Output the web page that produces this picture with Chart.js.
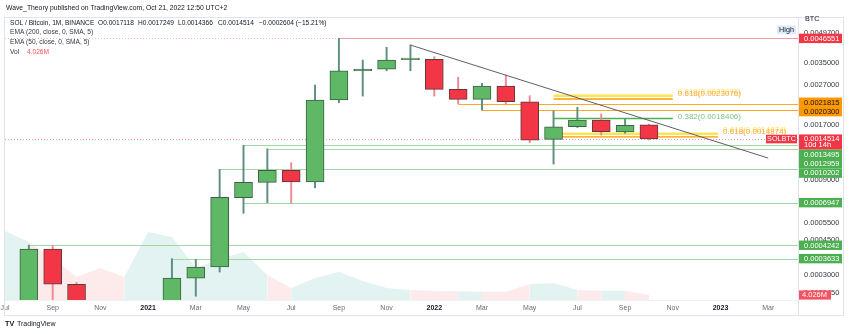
<!DOCTYPE html>
<html>
<head>
<meta charset="utf-8">
<script src="https://cdn.jsdelivr.net/npm/chart.js@4.4.0/dist/chart.umd.min.js"></script>
<style>
  html, body { margin: 0; padding: 0; background: #ffffff; }
  #wrap { width: 850px; height: 334px; position: relative; }
</style>
</head>
<body>
<div id="wrap"><canvas id="c" width="850" height="334"></canvas></div>
<script>
// SOL / BTC monthly candles, Jul 2020 .. Oct 2022 (x = month index from Jul 2020)
const months = ['Jul 2020','Aug 2020','Sep 2020','Oct 2020','Nov 2020','Dec 2020',
  'Jan 2021','Feb 2021','Mar 2021','Apr 2021','May 2021','Jun 2021','Jul 2021','Aug 2021',
  'Sep 2021','Oct 2021','Nov 2021','Dec 2021','Jan 2022','Feb 2022','Mar 2022','Apr 2022',
  'May 2022','Jun 2022','Jul 2022','Aug 2022','Sep 2022','Oct 2022'];
const open  = [0.000115,0.000165,0.000406,0.000270,0.000180,0.000125,0.000105,0.000125,0.000290,0.000330,
  0.000737,0.000879,0.001009,0.000882,0.002280,0.003200,0.003260,0.003640,0.003653,0.002580,
  0.002298,0.002680,0.002235,0.001446,0.001673,0.001808,0.001575,0.0017118];
const high  = [0.000175,0.000425,0.000424,0.000276,0.000200,0.000140,0.000165,0.0003633,0.000360,0.0010202,
  0.0013495,0.0012959,0.001103,0.002713,0.0046551,0.003624,0.004200,0.004310,0.003765,0.002966,
  0.002766,0.003046,0.002396,0.002007,0.002095,0.001938,0.001823,0.0017249];
const low   = [0.000105,0.000150,0.000205,0.000165,0.000120,0.000100,0.000085,0.000120,0.000235,0.000311,
  0.000614,0.0006947,0.000690,0.000825,0.002210,0.002387,0.003200,0.003200,0.002387,0.0021815,
  0.0020300,0.002180,0.001390,0.001085,0.001660,0.001520,0.001550,0.0014366];
const close = [0.000165,0.000406,0.000270,0.000180,0.000125,0.000105,0.000125,0.000290,0.000329,0.000738,
  0.000879,0.001009,0.000882,0.002280,0.003200,0.003250,0.003624,0.003655,0.002580,0.002298,
  0.002680,0.002235,0.001434,0.001673,0.001808,0.001579,0.001700,0.0014514];
// monthly volume, millions of SOL
const volume = [55.5,46.7,33.8,18.5,25.8,18.5,54.7,50.7,25.8,33.0,38.6,20.1,9.7,17.7,22.5,15.3,
  9.7,8.1,7.2,7.0,6.7,6.7,12.9,13.7,8.1,7.5,7.5,4.026];

// axis ticks
const priceTicks = [0.00497,0.0035,0.0027,0.0017,0.0009,0.00055,0.00045,0.0003,0.000245];
const timeTicks = [0,2,4,6,8,10,12,14,16,18,20,22,24,26,28,30,32];
const monthNames = ['Jan','Feb','Mar','Apr','May','Jun','Jul','Aug','Sep','Oct','Nov','Dec'];

// drawn levels
const athLevel = 0.0046551, athFrom = 14;
const resistLevels = [0.0021815, 0.0020300];
const resistFrom = [19, 20];
const supportLevels = [0.0013495, 0.0012959, 0.0010202, 0.0006947, 0.0004242, 0.0003633];
const supportFrom = [10, 11, 9, 10, 1, 7];
const fibRatios = ['0.618', '0.382', '0.618'];
const fibValues = [0.0023076, 0.0018406, 0.0014874];
const fibFrom = [23, 23, 23.35];
const fibTo = [28, 28, 29.9];
const trendX = [17, 32];
const trendY = [0.00431, 0.001164];

const lastIdx = months.length - 1;
const lastPrice = close[lastIdx];
const countdown = '10d 14h';
const FONT = "'Liberation Sans', Arial, sans-serif";
const UP = '#5fb865', DOWN = '#f23645';
const isUp = i => close[i] >= open[i];
const fmt = v => v.toFixed(7);

const wickData = months.map((m, i) => ({ x: i, y: [low[i], high[i]] }));
const bodyData = months.map((m, i) => ({ x: i, y: [Math.min(open[i], close[i]), Math.max(open[i], close[i])] }));
const volData = months.map((m, i) => ({ x: i, y: volume[i] }));

function hLine(ctx, x1, x2, y, color, width, dash) {
  ctx.save();
  ctx.beginPath();
  ctx.strokeStyle = color;
  ctx.lineWidth = width;
  ctx.setLineDash(dash || []);
  ctx.moveTo(x1, y); ctx.lineTo(x2, y);
  ctx.stroke();
  ctx.restore();
}
const crisp = y => Math.round(y) + 0.5;

function drawLevels(chart) {
  const { ctx, chartArea: a, scales: { x, y } } = chart;
  ctx.save();
  ctx.beginPath(); ctx.rect(a.left, a.top, a.right - a.left, a.bottom - a.top); ctx.clip();
  // all-time-high level
  const yAth = crisp(y.getPixelForValue(athLevel));
  hLine(ctx, a.left, x.getPixelForValue(athFrom), yAth, '#f3b9bd', 1, [1, 2]);
  hLine(ctx, x.getPixelForValue(athFrom), a.right, yAth, '#f49aa2', 1);
  // last price
  hLine(ctx, a.left, a.right, crisp(y.getPixelForValue(lastPrice)), '#f39aa1', 1, [1, 2]);
  resistLevels.forEach((v, i) => hLine(ctx, x.getPixelForValue(resistFrom[i]), a.right, crisp(y.getPixelForValue(v)), '#ffa726', 1));
  supportLevels.forEach((v, i) => hLine(ctx, x.getPixelForValue(supportFrom[i]), a.right, crisp(y.getPixelForValue(v)), '#a5d6a7', 1.2));
  fibValues.forEach((v, i) => {
    const py = y.getPixelForValue(v);
    const x1 = x.getPixelForValue(fibFrom[i]), x2 = x.getPixelForValue(fibTo[i]);
    if (fibRatios[i] === '0.618') {
      hLine(ctx, x1, x2, py - 3.2, '#ffe44d', 2.6);
      hLine(ctx, x1, x2, py, '#ff9800', 1.4);
    } else {
      hLine(ctx, x1, x2, py, '#4caf50', 1.6);
    }
  });
  ctx.restore();
}

function drawFibText(chart) {
  const { ctx, scales: { x, y } } = chart;
  ctx.save();
  ctx.font = '8px ' + FONT;
  ctx.textBaseline = 'middle';
  ctx.textAlign = 'left';
  fibValues.forEach((v, i) => {
    const py = y.getPixelForValue(v);
    const tx = x.getPixelForValue(fibTo[i]) + 5;
    const label = fibRatios[i] + '(' + fmt(v) + ')';
    if (fibRatios[i] === '0.618') {
      ctx.fillStyle = '#ffe066';
      ctx.fillText(label, tx, py - 7);
      ctx.fillStyle = '#f7a93c';
      ctx.fillText(label, tx, py - 5);
    } else {
      ctx.fillStyle = '#7cc47f';
      ctx.fillText(label, tx, py - 1.5);
    }
  });
  ctx.restore();
}

function box(ctx, x, y, w, h, bg) { ctx.fillStyle = bg; ctx.fillRect(x, y, w, h); }

function drawInPlotTags(chart) {
  const { ctx, chartArea: a, scales: { y } } = chart;
  ctx.save();
  ctx.font = '7.2px ' + FONT;
  ctx.textBaseline = 'middle';
  ctx.textAlign = 'center';
  // symbol tag on the last price line
  const py = y.getPixelForValue(lastPrice);
  box(ctx, a.right - 32, py - 4.3, 31, 8.6, '#f23645');
  ctx.fillStyle = '#ffffff';
  ctx.fillText('SOLBTC', a.right - 16.5, py);
  // session high marker
  box(ctx, a.right - 21, 25.5, 19, 8.5, '#dfeafb');
  ctx.fillStyle = '#131722';
  ctx.fillText('High', a.right - 11.5, 29.8);
  ctx.restore();
}

// price-axis tags, stacked so they never overlap
function drawAxisTags(chart) {
  const { ctx, chartArea: a, scales: { y, yv } } = chart;
  const H = 9.4;
  const tags = [];
  tags.push({ want: y.getPixelForValue(athLevel) - H / 2, h: H, lines: [fmt(athLevel)], bg: '#f23645', fg: '#fff' });
  resistLevels.forEach(v => tags.push({ want: y.getPixelForValue(v) - H / 2, h: H, lines: [fmt(v)], bg: '#ff9800', fg: '#131722' }));
  tags.push({ want: y.getPixelForValue(lastPrice) - 4.6, h: 15.2, lines: [fmt(lastPrice), countdown], bg: '#f23645', fg: '#fff', pinned: true });
  supportLevels.forEach(v => tags.push({ want: y.getPixelForValue(v) - H / 2, h: H, lines: [fmt(v)], bg: '#4caf50', fg: '#fff' }));
  tags.sort((p, q) => p.want - q.want);

  const blocks = [];
  tags.forEach(t => {
    blocks.push({ items: [t], top: t.want, h: t.h });
    while (blocks.length > 1) {
      const b = blocks[blocks.length - 1], p = blocks[blocks.length - 2];
      if (p.top + p.h <= b.top + 0.01) break;
      const items = p.items.concat(b.items);
      const offs = []; let o = 0;
      items.forEach(it => { offs.push(o); o += it.h; });
      const pin = items.findIndex(it => it.pinned);
      let top;
      if (pin >= 0) top = items[pin].want - offs[pin];
      else top = items.reduce((s, it, k) => s + it.want - offs[k], 0) / items.length;
      blocks.splice(-2, 2, { items, top, h: o });
    }
  });

  ctx.save();
  ctx.font = '7.5px ' + FONT;
  ctx.textBaseline = 'middle';
  ctx.textAlign = 'left';
  const bx = a.right, bw = 44;
  blocks.forEach(b => {
    let t = b.top;
    b.items.forEach(it => {
      box(ctx, bx, t, bw, it.h, it.bg);
      ctx.fillStyle = it.fg;
      if (it.lines.length === 1) ctx.fillText(it.lines[0], bx + 6, t + it.h / 2 + 0.3);
      else {
        ctx.fillText(it.lines[0], bx + 6, t + 4.6);
        ctx.fillText(it.lines[1], bx + 6, t + 11);
      }
      t += it.h;
    });
  });
  // volume tag
  const vy = yv.getPixelForValue(volume[lastIdx]);
  box(ctx, bx, vy - 4.6, 33, 9.2, '#f7525f');
  ctx.fillStyle = '#fff';
  ctx.fillText(volume[lastIdx].toFixed(3) + 'M', bx + 4, vy + 0.2);
  ctx.restore();
}

function drawChrome(chart) {
  const { ctx, chartArea: a } = chart;
  ctx.save();
  // frame
  ctx.strokeStyle = '#e0e3eb';
  ctx.lineWidth = 1;
  ctx.beginPath();
  ctx.moveTo(4.5, 17.5); ctx.lineTo(843.5, 17.5); ctx.lineTo(843.5, 315.5); ctx.lineTo(4.5, 315.5); ctx.closePath();
  ctx.moveTo(a.right + 0.5, 17.5); ctx.lineTo(a.right + 0.5, 315.5);
  ctx.stroke();
  ctx.strokeStyle = '#eef0f4';
  ctx.beginPath(); ctx.moveTo(a.left, a.bottom + 0.5); ctx.lineTo(a.right, a.bottom + 0.5); ctx.stroke();

  ctx.textBaseline = 'middle';
  ctx.textAlign = 'left';
  ctx.font = '6.8px ' + FONT;
  ctx.fillStyle = '#131722';
  ctx.fillText('Wave_Theory published on TradingView.com, Oct 21, 2022 12:50 UTC+2', 6, 8);
  ctx.font = '7.2px ' + FONT;
  ctx.fillText('BTC', 805, 19);

  ctx.font = '6.6px ' + FONT;
  ctx.fillStyle = '#131722';
  ctx.fillText('SOL / Bitcoin, 1M, BINANCE', 10, 23.5);
  const ohlc = ['O' + fmt(open[lastIdx]), 'H' + fmt(high[lastIdx]), 'L' + fmt(low[lastIdx]), 'C' + fmt(close[lastIdx])];
  const ox = [98, 138, 178, 218];
  ohlc.forEach((s, i) => ctx.fillText(s, ox[i], 23.5));
  const chg = close[lastIdx] - open[lastIdx];
  const pct = chg / open[lastIdx] * 100;
  ctx.fillText('\u2212' + fmt(Math.abs(chg)) + ' (\u2212' + Math.abs(pct).toFixed(2) + '%)', 259, 23.5);
  ctx.fillStyle = '#333a45';
  ctx.fillText('EMA (200, close, 0, SMA, 5)', 10, 32.5);
  ctx.fillText('EMA (50, close, 0, SMA, 5)', 10, 42.3);
  ctx.fillText('Vol', 10, 51.7);
  ctx.fillStyle = '#f7525f';
  ctx.fillText(volume[lastIdx].toFixed(3) + 'M', 27, 51.7);

  // footer brand
  ctx.fillStyle = '#131722';
  ctx.font = 'bold 7.2px ' + FONT;
  ctx.fillText('TV', 5, 324.5);
  ctx.font = '7px ' + FONT;
  ctx.fillText('TradingView', 17, 324.5);
  ctx.restore();
}

const overlay = {
  id: 'overlay',
  afterDatasetDraw(chart, args) { if (args.index === 0) drawLevels(chart); },
  afterDatasetsDraw(chart) { drawFibText(chart); drawInPlotTags(chart); },
  afterDraw(chart) { drawAxisTags(chart); drawChrome(chart); }
};

new Chart(document.getElementById('c'), {
  type: 'bar',
  data: {
    datasets: [
      {
        type: 'line', label: 'Vol', data: volData, yAxisID: 'yv', order: 4,
        fill: 'origin', pointRadius: 0, borderWidth: 0, borderColor: 'rgba(0,0,0,0)', tension: 0, clip: 0,
        backgroundColor: 'rgba(38,166,154,0.13)',
        segment: { backgroundColor: c => isUp(c.p1DataIndex) ? 'rgba(38,166,154,0.13)' : 'rgba(239,83,80,0.12)' }
      },
      {
        label: 'wick', data: wickData, yAxisID: 'y', order: 3, grouped: false, barThickness: 1.3, clip: 0,
        backgroundColor: c => isUp(c.dataIndex) ? '#5f8f82' : '#ee8a94', borderWidth: 0
      },
      {
        label: 'body', data: bodyData, yAxisID: 'y', order: 2, grouped: false, barThickness: 18, clip: 0,
        minBarLength: 1.6, borderSkipped: false, borderWidth: 1,
        borderColor: c => isUp(c.dataIndex) ? '#3d5f45' : '#5a3a3d',
        backgroundColor: c => isUp(c.dataIndex) ? UP : DOWN
      },
      {
        type: 'line', label: 'trend', yAxisID: 'y', order: 1, clip: 0,
        data: trendX.map((v, i) => ({ x: v, y: trendY[i] })),
        borderColor: '#5d606b', borderWidth: 1, pointRadius: 0, fill: false
      }
    ]
  },
  options: {
    responsive: false,
    devicePixelRatio: 1,
    animation: false,
    layout: { padding: { top: 20, right: 7, bottom: 19, left: 5 } },
    plugins: { legend: { display: false }, tooltip: { enabled: false } },
    scales: {
      x: {
        type: 'linear', min: 0, max: 33.25, offset: false, bounds: 'data',
        grid: { display: false, offset: false, drawTicks: false },
        border: { display: false },
        afterBuildTicks: s => { s.ticks = timeTicks.map(v => ({ value: v })); },
        afterFit: s => { s.height = 15; s.paddingLeft = 0; s.paddingRight = 0; },
        ticks: {
          autoSkip: false, maxRotation: 0, padding: 4,
          color: c => (6 + c.tick.value) % 12 === 0 ? '#131722' : '#6a6d78',
          font: c => ({ family: FONT, size: 7, weight: (c.tick && (6 + c.tick.value) % 12 === 0) ? 'bold' : 'normal' }),
          callback: v => { const m = (6 + v) % 12; return m === 0 ? String(2020 + Math.floor((6 + v) / 12)) : monthNames[m]; }
        }
      },
      y: {
        type: 'logarithmic', position: 'right', min: 0.000225, max: 0.00576, bounds: 'data',
        grid: { display: false, drawTicks: false },
        border: { display: false },
        afterBuildTicks: s => { s.ticks = priceTicks.map(v => ({ value: v })); },
        afterFit: s => { s.width = 45; s.paddingTop = 0; s.paddingBottom = 0; },
        ticks: {
          padding: 6, color: '#363a45', font: { family: FONT, size: 7.5 },
          callback: v => fmt(v)
        }
      },
      yv: {
        type: 'linear', display: false, min: 0, max: 225.4
      }
    }
  },
  plugins: [overlay]
});
</script>
</body>
</html>
